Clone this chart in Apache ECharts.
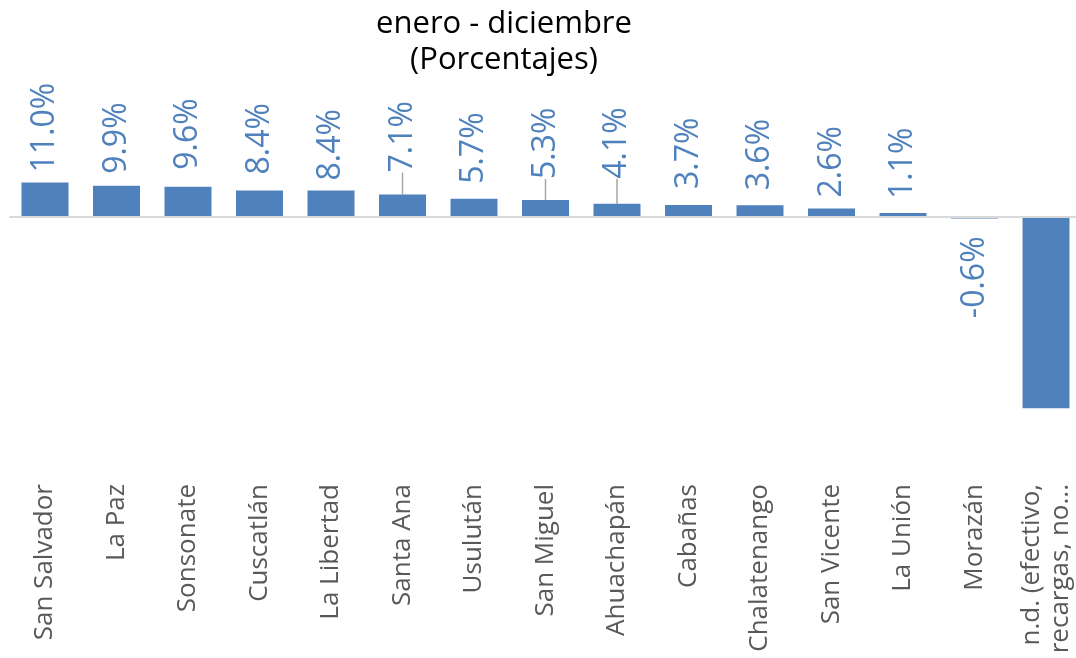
<!DOCTYPE html>
<html><head><meta charset="utf-8">
<script src="https://cdn.jsdelivr.net/npm/echarts@6/dist/echarts.min.js"></script>
<style>html,body{margin:0;padding:0;background:#fff}#c{width:1076px;height:658px}</style>
</head><body><div id="c"></div>
<script>
const categories = ['San Salvador','La Paz','Sonsonate','Cuscatlán','La Libertad','Santa Ana','Usulután','San Miguel','Ahuachapán','Cabañas','Chalatenango','San Vicente','La Unión','Morazán','n.d. (efectivo,\nrecargas, no...'];
const values = [11.0, 9.9, 9.6, 8.4, 8.4, 7.1, 5.7, 5.3, 4.1, 3.7, 3.6, 2.6, 1.1, -0.6, -61.9];
const titleText = 'enero - diciembre\n(Porcentajes)';

// label placement tweaks (styling only)
const labelGap    = [10, 12, 17, 16, 10, 22, 15, 28, 28, 16, 15, 11, 14, 18, 0];
const labelShiftX = [0, 0, 0, 0, 0, 0, 0, -7, -3, 0, 0, 0, 0, 0, 0];
const leaderLine  = [false,false,false,false,false,true,false,true,true,false,false,false,false,false,false];
const labelHidden = [false,false,false,false,false,false,false,false,false,false,false,false,false,false,true];

const BLUE = '#4f81bd';
const data = values.map((v, i) => ({
  value: v,
  label: {
    show: !labelHidden[i],
    position: v >= 0 ? 'top' : 'bottom',
    align: v >= 0 ? 'left' : 'right',
    distance: labelGap[i],
    offset: [labelShiftX[i], 0]
  },
  labelLine: { show: leaderLine[i] }
}));

const chart = echarts.init(document.getElementById('c'), null, {renderer: 'canvas'});
chart.setOption({
  animation: false,
  backgroundColor: '#fff',
  title: {
    text: titleText,
    left: 499,
    top: 1,
    textAlign: 'center',
    textStyle: { fontFamily: 'Open Sans', fontSize: 31, fontWeight: 'normal', color: '#000', lineHeight: 36 }
  },
  grid: { left: 9.25, width: 1072.5, top: 100, bottom: 183, containLabel: false, outerBoundsMode: 'none' },
  xAxis: {
    type: 'category',
    data: categories,
    axisLine: { show: false, onZero: false },
    axisTick: { show: false },
    axisLabel: { rotate: 90, interval: 0, margin: 9, fontSize: 26, color: '#595959', fontFamily: 'Open Sans', lineHeight: 29 }
  },
  yAxis: {
    type: 'value', min: -83.4, max: 37.6, show: false
  },
  series: [{
    type: 'bar',
    data: data,
    barWidth: 47,
    itemStyle: { color: BLUE },
    label: {
      rotate: 90,
      verticalAlign: 'middle',
      fontSize: 32,
      fontFamily: 'Open Sans',
      color: BLUE,
      formatter: p => p.value.toFixed(1) + '%'
    },
    labelLine: { lineStyle: { color: '#a6a6a6', width: 1.5 } },
    markLine: {
      silent: true,
      symbol: 'none',
      label: { show: false },
      lineStyle: { color: '#d9d9d9', type: 'solid', width: 2 },
      data: [{ yAxis: 0 }]
    }
  }]
});
</script>
</body></html>
